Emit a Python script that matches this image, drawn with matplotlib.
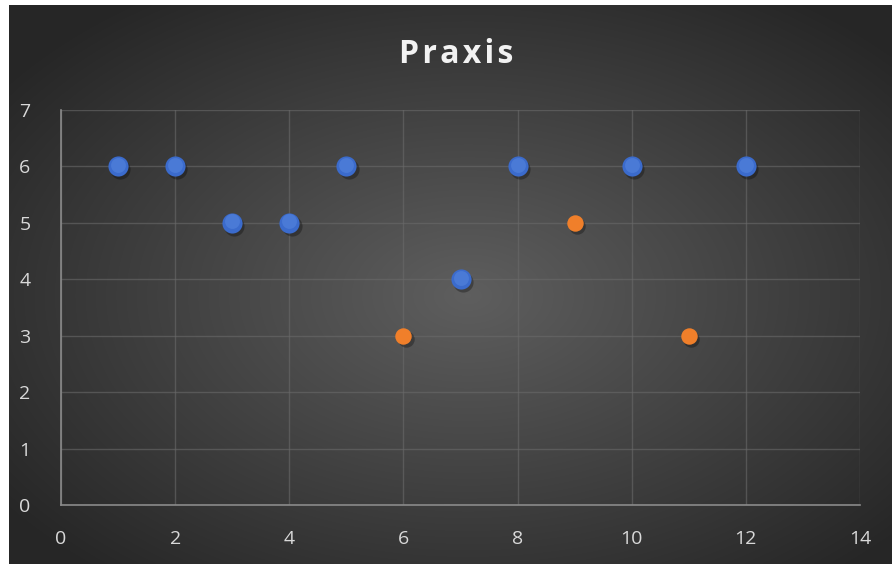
import matplotlib.pyplot as plt
import numpy as np

blue_x = [1, 2, 3, 4, 5, 7, 8, 10, 12]
blue_y = [6, 6, 5, 5, 6, 4, 6, 6, 6]
orange_x = [6, 9, 11]
orange_y = [3, 5, 3]

W, H = 892, 564
fig = plt.figure(figsize=(W / 100, H / 100), dpi=100, facecolor='white')

# dark radial gradient background
bg = fig.add_axes([9 / W, 0, 1 - 9 / W, 1 - 5 / H])
yy, xx = np.mgrid[0:1:300j, 0:1:470j]
r = np.sqrt(((xx - 0.52) / 0.8) ** 2 + ((yy - 0.52) / 0.8) ** 2)
shade = np.clip(0.37 - 0.27 * r, 0.15, 0.37)
bg.imshow(np.dstack([shade] * 3), extent=[0, 1, 0, 1], aspect='auto', interpolation='bilinear')
bg.axis('off')

ax = fig.add_axes([61 / W, (H - 505) / H, (860 - 61) / W, (505 - 110) / H])
ax.patch.set_alpha(0)
ax.set_xlim(0, 14)
ax.set_ylim(0, 7)
ax.set_xticks(range(0, 15, 2))
ax.set_yticks(range(0, 8))
ax.grid(True, color='#6a6a6a', linewidth=1, alpha=0.6)
ax.set_axisbelow(True)
for s in ['top', 'right']:
    ax.spines[s].set_visible(False)
for s in ['left', 'bottom']:
    ax.spines[s].set_color('#8a8a8a')
    ax.spines[s].set_linewidth(1.2)
ax.tick_params(length=0, colors='#d9d9d9', labelsize=14)
ax.tick_params(axis='x', pad=18)
ax.tick_params(axis='y', pad=22)
for lbl in ax.get_xticklabels() + ax.get_yticklabels():
    lbl.set_fontfamily('Open Sans')

# shadows
ax.scatter(np.array(blue_x) + 0.04, np.array(blue_y) - 0.05, s=210, color='black', alpha=0.3, linewidths=0, zorder=2)
ax.scatter(np.array(orange_x) + 0.04, np.array(orange_y) - 0.05, s=140, color='black', alpha=0.3, linewidths=0, zorder=2)
ax.scatter(blue_x, blue_y, s=210, color='#3b6bcc', linewidths=0, zorder=3)
ax.scatter(np.array(blue_x), np.array(blue_y) + 0.03, s=115, color='#4a7ad6', linewidths=0, zorder=4)
ax.scatter(orange_x, orange_y, s=140, color='#f07f2a', linewidths=0, zorder=3)

fig.text(0.511, 1 - 55 / H, '\u200a'.join('Praxis'), ha='center', va='center',
         fontsize=23, fontweight='bold', color='#f2f2f2', family='Open Sans')

fig.savefig('out.png', dpi=100, facecolor='white')
